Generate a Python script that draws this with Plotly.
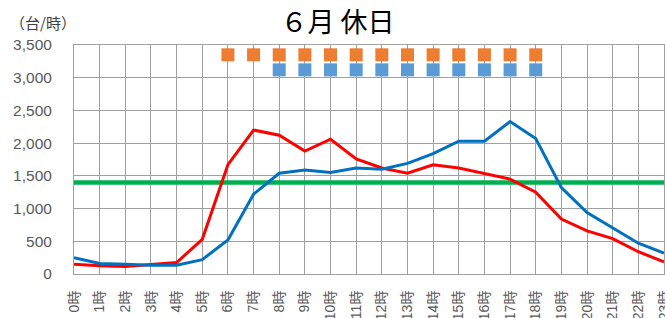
import plotly.graph_objects as go

hours = [f"{h}時" for h in range(24)]
blue_vals = [250, 160, 150, 135, 135, 220, 520, 1220, 1540, 1590, 1550, 1620,
             1600, 1690, 1840, 2030, 2030, 2330, 2070, 1320, 940, 710, 470, 320]
red_vals = [150, 125, 115, 140, 175, 530, 1670, 2200, 2120, 1880, 2060, 1760,
            1620, 1540, 1670, 1620, 1540, 1450, 1250, 840, 660, 540, 340, 185]
green_val = 1400
orange_flags = [None]*6 + [3350]*13 + [None]*5
blue_flags = [None]*8 + [3120]*11 + [None]*5
y_ticks = [0, 500, 1000, 1500, 2000, 2500, 3000, 3500]
y_labels = ["0", "500", "1,000", "1,500", "2,000", "2,500", "3,000", "3,500"]

xs = list(range(24))
fig = go.Figure()
fig.add_trace(go.Scatter(x=xs, y=[green_val]*24, mode="lines",
                         line=dict(color="#00B050", width=4.5), hoverinfo="skip"))
fig.add_trace(go.Scatter(x=xs, y=red_vals, mode="lines",
                         line=dict(color="#FF0000", width=3)))
fig.add_trace(go.Scatter(x=xs, y=blue_vals, mode="lines",
                         line=dict(color="#0070C0", width=3)))
fig.add_trace(go.Scatter(x=xs, y=orange_flags, mode="markers",
                         marker=dict(symbol="square", size=13, color="#ED7D31")))
fig.add_trace(go.Scatter(x=xs, y=blue_flags, mode="markers",
                         marker=dict(symbol="square", size=13, color="#5B9BD5")))

font_fam = "Liberation Sans, Noto Sans CJK JP, sans-serif"
fig.update_layout(
    width=665, height=318,
    margin=dict(l=74, r=1, t=45, b=44),
    paper_bgcolor="white", plot_bgcolor="white",
    showlegend=False,
    font=dict(family=font_fam, color="#595959", size=15),
    title=dict(text="６月 休日", x=337.5/665, xanchor="center", y=1 - 23/318, yanchor="middle",
               font=dict(family="Noto Sans CJK JP", size=27, color="#000000")),
)
fig.add_annotation(text="（台/時）", xref="paper", yref="paper", x=-66/590, y=1 + 23/229,
                   xanchor="left", yanchor="middle", showarrow=False,
                   font=dict(family="Noto Sans CJK JP", size=15, color="#404040"))
fig.update_xaxes(range=[0, 23], tickmode="array", tickvals=xs, ticktext=hours,
                 tickangle=-90, showgrid=True, gridcolor="#A0A0A0", gridwidth=1,
                 showline=True, linecolor="#A0A0A0", mirror=True, zeroline=False,
                 automargin=False, ticks="", ticklabelstandoff=10,
                 ticklabeloverflow="allow",
                 tickfont=dict(size=14, color="#595959"))
fig.update_yaxes(range=[0, 3500], tickmode="array", tickvals=y_ticks, ticktext=y_labels,
                 showgrid=True, gridcolor="#A0A0A0", gridwidth=1,
                 showline=True, linecolor="#A0A0A0", mirror=True, zeroline=False,
                 automargin=False, ticks="", ticklabelstandoff=18,
                 tickfont=dict(size=15.5, color="#595959"))
fig.write_html("out.html", config={"displayModeBar": False},
               post_script="document.body.style.margin='0';document.body.style.overflow='hidden';")
